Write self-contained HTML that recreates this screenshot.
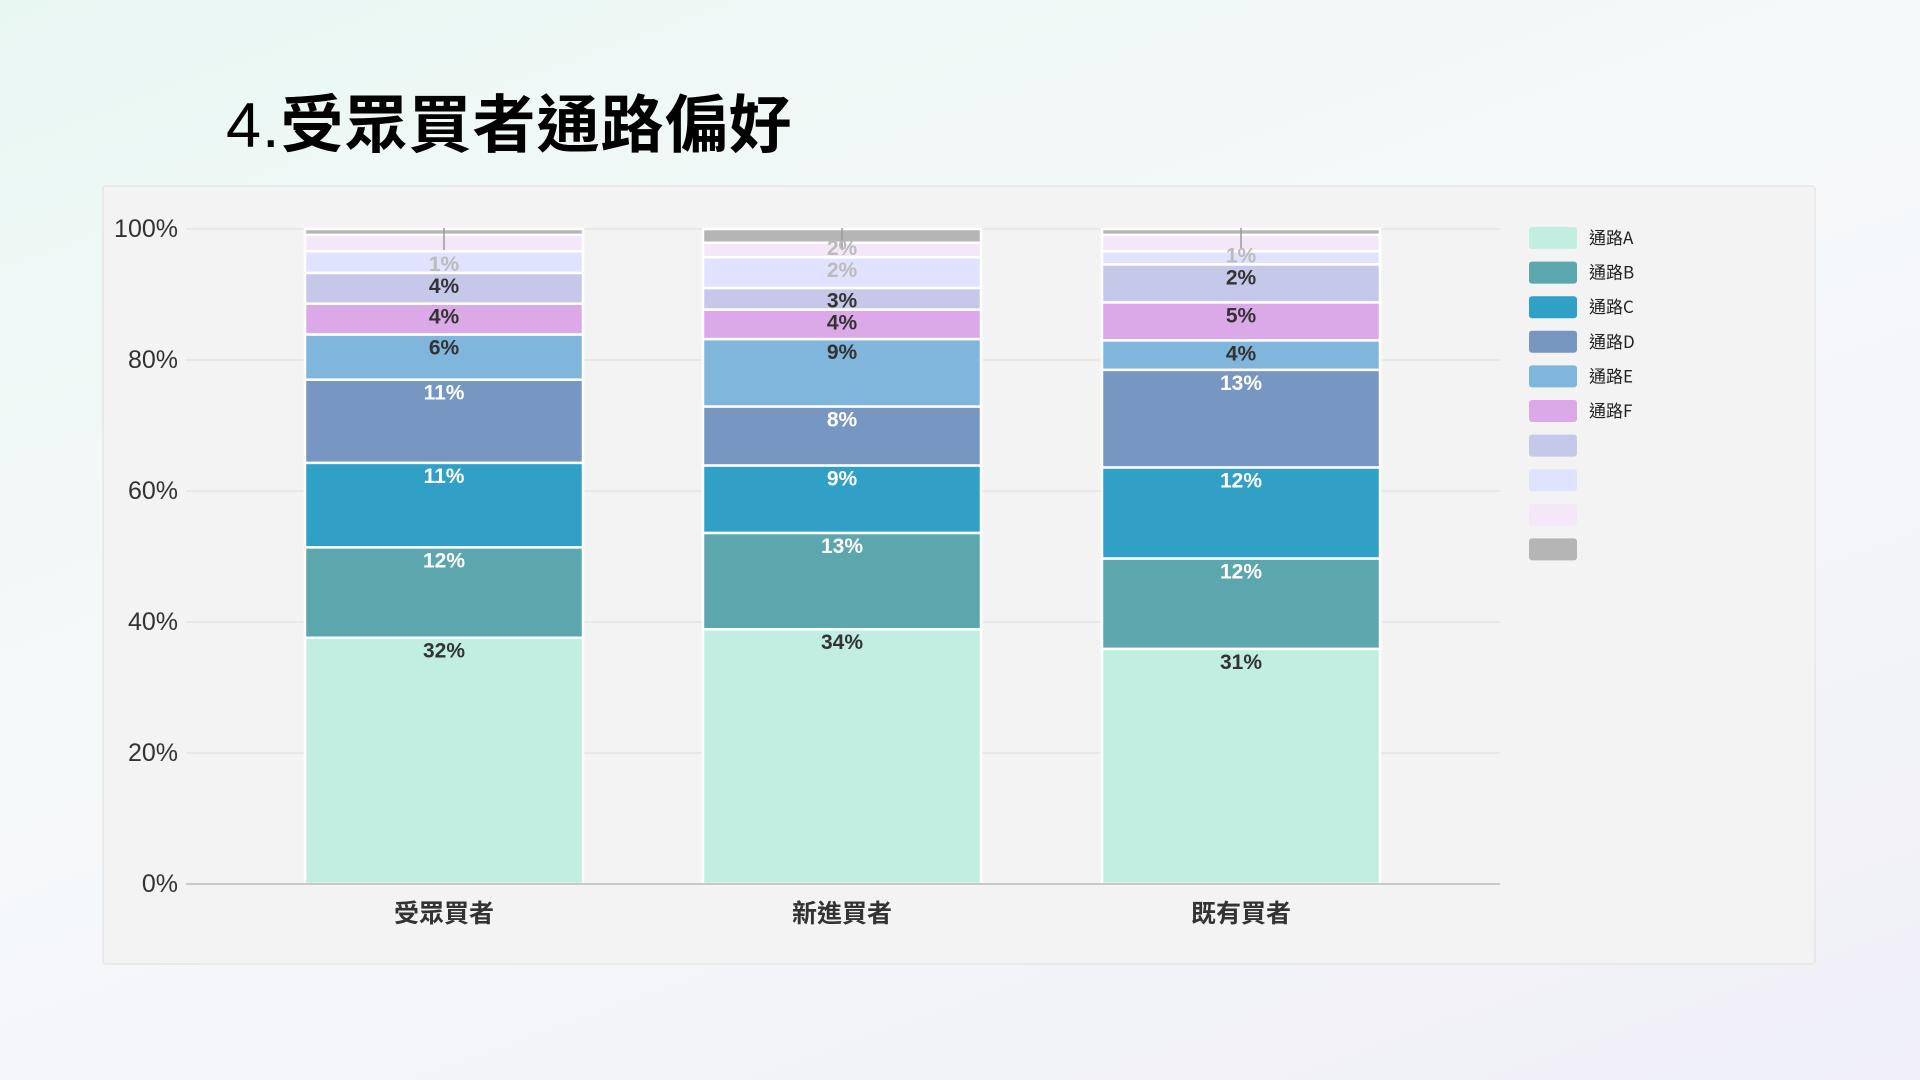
<!DOCTYPE html>
<html><head><meta charset="utf-8"><style>
html,body{margin:0;padding:0;width:1920px;height:1080px;overflow:hidden}
body{background:linear-gradient(160deg,#e9f7f3 0%,#f6f9fa 45%,#f0eff8 100%);font-family:"Liberation Sans","Noto Sans CJK TC",sans-serif}
.title{position:absolute;left:226px;top:75px;font-size:63px;font-weight:700;color:#000;font-family:"Noto Sans CJK TC","Liberation Sans",sans-serif;letter-spacing:1px}
.title .n{font-weight:400;font-family:"Liberation Sans",sans-serif}
</style></head><body>
<div class="title"><span class="n">4.</span>受眾買者通路偏好</div>
<svg width="1920" height="1080" style="position:absolute;left:0;top:0" font-family="Liberation Sans, Noto Sans CJK TC, sans-serif">
<rect x="103" y="186" width="1712" height="778" fill="#f3f3f3" stroke="#e6e6e6" stroke-width="1.5" rx="3"/>
<g stroke="#e4e4e4" stroke-width="1.5">
<line x1="186" x2="1500" y1="229" y2="229"/><line x1="186" x2="1500" y1="360" y2="360"/>
<line x1="186" x2="1500" y1="491" y2="491"/><line x1="186" x2="1500" y1="622" y2="622"/>
<line x1="186" x2="1500" y1="753" y2="753"/>
</g>
<g font-size="25" fill="#333" text-anchor="end">
<text x="178" y="237">100%</text><text x="178" y="368">80%</text><text x="178" y="499">60%</text>
<text x="178" y="630">40%</text><text x="178" y="761">20%</text><text x="178" y="892">0%</text>
</g>
<g id="bars" stroke="#fff" stroke-width="2.5"></g>
<g id="labels" font-size="21" font-weight="700" text-anchor="middle"></g>
<line x1="186" x2="1500" y1="884" y2="884" stroke="#c8c8c8" stroke-width="2"/>
<g font-size="25" fill="#333" text-anchor="middle" font-weight="700" font-family="Noto Sans CJK TC, sans-serif">
<text x="444" y="922">受眾買者</text><text x="842" y="922">新進買者</text><text x="1241" y="922">既有買者</text>
</g>
<g id="legend" font-size="17" fill="#222" font-family="Noto Sans CJK TC, sans-serif"></g>
</svg>
<script>
var cols=["#c2eee2","#5ca7ae","#31a0c7","#7796c2","#80b5dc","#dba9e8","#c5c8e8","#dfe3fe","#f3e7f8","#b5b5b5"];
var data=[
 {x:305,b:[37.6,51.4,64.3,77.0,83.9,88.6,93.3,96.6,99.1,100],l:["32%","12%","11%","11%","6%","4%","4%","1%","",""]},
 {x:703,b:[38.9,53.6,63.9,72.9,83.2,87.7,91.0,95.7,97.9,100],l:["34%","13%","9%","8%","9%","4%","3%","2%","2%",""]},
 {x:1102,b:[35.9,49.7,63.6,78.5,83.0,88.8,94.6,96.6,99.1,100],l:["31%","12%","12%","13%","4%","5%","2%","1%","",""]}];
var lc=["#333","#fff","#fff","#fff","#333","#333","#333","#bbb","#bbb","#333"];
function Y(v){return 884-v*6.55}
var B="",L="";
data.forEach(function(d){var prev=0;
 d.b.forEach(function(v,i){var y1=Y(v),y0=Y(prev);
  B+='<rect x="'+d.x+'" y="'+y1+'" width="278" height="'+(y0-y1)+'" fill="'+cols[i]+'"/>';
  if(d.l[i]){var ly=Math.min(y1+20,y0-2);L+='<text x="'+(d.x+139)+'" y="'+ly+'" fill="'+lc[i]+'">'+d.l[i]+'</text>';}
  prev=v;});
 B+='<line x1="'+(d.x+139)+'" x2="'+(d.x+139)+'" y1="228" y2="250" stroke="#999" stroke-width="1.5"/>';
});
document.getElementById("bars").innerHTML=B;
document.getElementById("labels").innerHTML=L;
var G="",names=["通路A","通路B","通路C","通路D","通路E","通路F","","","",""];
for(var i=0;i<10;i++){var cy=238+i*34.6;
 G+='<rect x="1529" y="'+(cy-11)+'" width="48" height="22" rx="3" fill="'+cols[i]+'"/>';
 if(names[i])G+='<text x="1589" y="'+(cy+6)+'">'+names[i]+'</text>';}
document.getElementById("legend").innerHTML=G;
</script>
</body></html>
